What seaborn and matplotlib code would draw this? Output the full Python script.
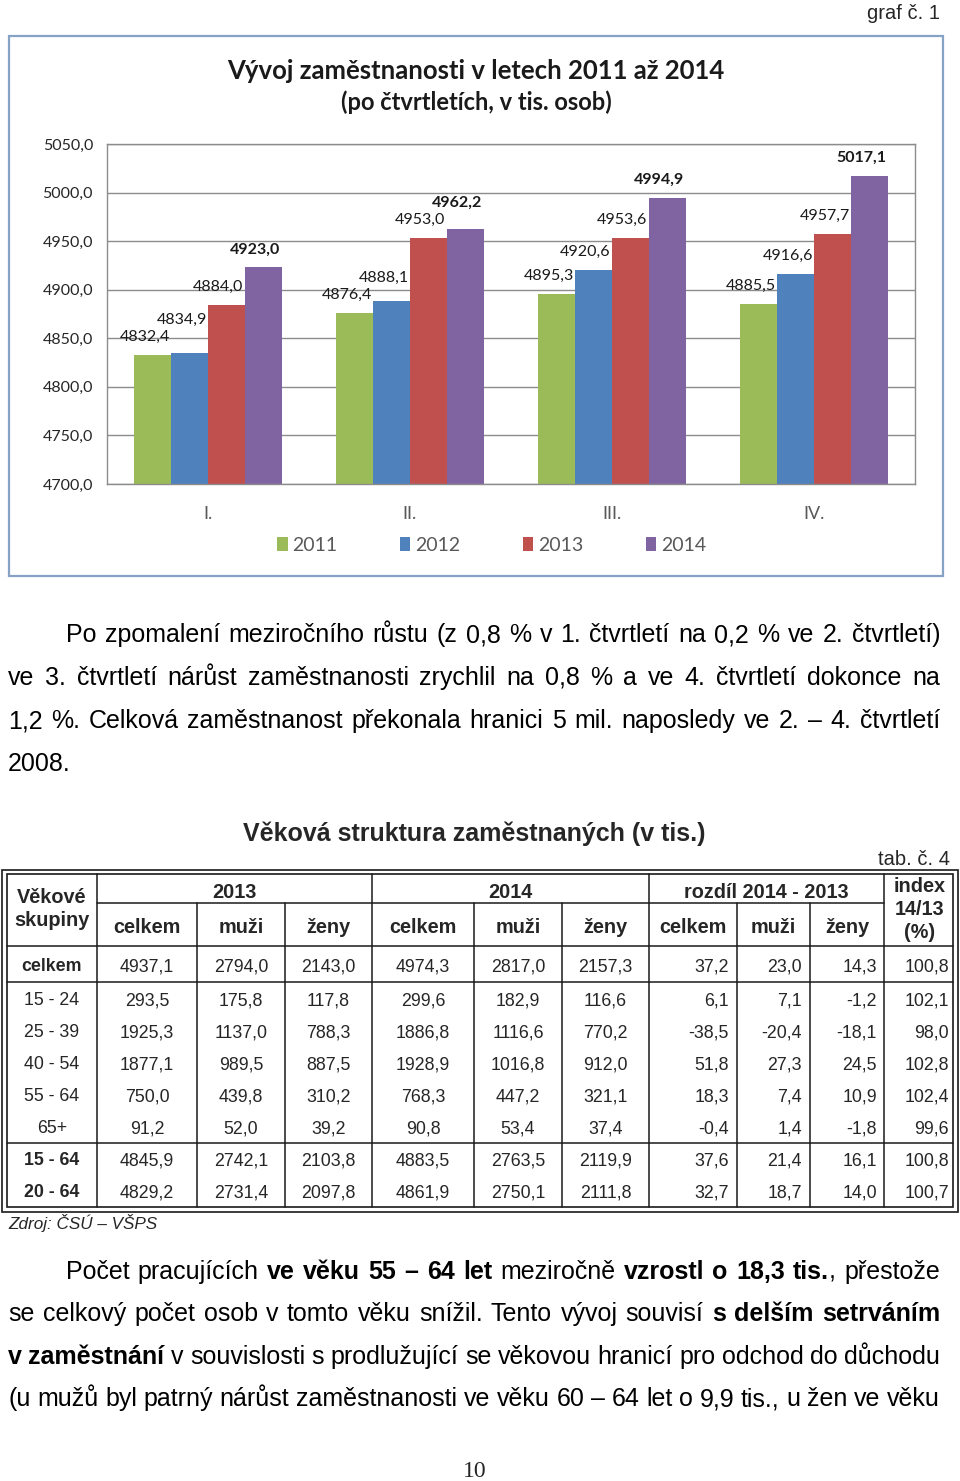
import numpy as np
import pandas as pd
import seaborn as sns
import matplotlib.pyplot as plt
from matplotlib.lines import Line2D
from matplotlib.patches import Rectangle
from matplotlib.ticker import FuncFormatter

# --- data: graf c. 1 ---
quarters = ['I.', 'II.', 'III.', 'IV.']
years = ['2011', '2012', '2013', '2014']
emp_2011 = [4832.4, 4876.4, 4895.3, 4885.5]
emp_2012 = [4834.9, 4888.1, 4920.6, 4916.6]
emp_2013 = [4884.0, 4953.0, 4953.6, 4957.7]
emp_2014 = [4923.0, 4962.2, 4994.9, 5017.1]
bar_colors = ['#9BBB59', '#4F81BD', '#C0504D', '#8064A2']

# --- data: tab. c. 4 ---
age_groups = ['celkem', '15 - 24', '25 - 39', '40 - 54', '55 - 64', '65+', '15 - 64', '20 - 64']
bold_rows = [True, False, False, False, False, False, True, True]
celkem_2013 = [4937.1, 293.5, 1925.3, 1877.1, 750.0, 91.2, 4845.9, 4829.2]
muzi_2013 = [2794.0, 175.8, 1137.0, 989.5, 439.8, 52.0, 2742.1, 2731.4]
zeny_2013 = [2143.0, 117.8, 788.3, 887.5, 310.2, 39.2, 2103.8, 2097.8]
celkem_2014 = [4974.3, 299.6, 1886.8, 1928.9, 768.3, 90.8, 4883.5, 4861.9]
muzi_2014 = [2817.0, 182.9, 1116.6, 1016.8, 447.2, 53.4, 2763.5, 2750.1]
zeny_2014 = [2157.3, 116.6, 770.2, 912.0, 321.1, 37.4, 2119.9, 2111.8]
rozdil_celkem = [37.2, 6.1, -38.5, 51.8, 18.3, -0.4, 37.6, 32.7]
rozdil_muzi = [23.0, 7.1, -20.4, 27.3, 7.4, 1.4, 21.4, 18.7]
rozdil_zeny = [14.3, -1.2, -18.1, 24.5, 10.9, -1.8, 16.1, 14.0]
index_14_13 = [100.8, 102.1, 98.0, 102.8, 102.4, 99.6, 100.8, 100.7]

para1 = [
    "Po zpomalení meziročního růstu (z 0,8 % v 1. čtvrtletí na 0,2 % ve 2. čtvrtletí)",
    "ve 3. čtvrtletí nárůst zaměstnanosti zrychlil na 0,8 % a ve 4. čtvrtletí dokonce na",
    "1,2 %. Celková zaměstnanost překonala hranici 5 mil. naposledy ve 2. – 4. čtvrtletí",
    "2008.",
]
para2 = [
    "Počet pracujících *ve* *věku* *55* *–* *64* *let* meziročně *vzrostl* *o* *18,3* *tis.*, přestože",
    "se celkový počet osob v tomto věku snížil. Tento vývoj souvisí *s* *delším* *setrváním*",
    "*v* *zaměstnání* v souvislosti s prodlužující se věkovou hranicí pro odchod do důchodu",
    "(u mužů byl patrný nárůst zaměstnanosti ve věku 60 – 64 let o 9,9 tis., u žen ve věku",
]


def cz(v):
    return f'{v:.1f}'.replace('.', ',')


W, H = 960, 1481


def fx(x):
    return x / W


def fy(y):
    return 1 - y / H


sns.set_theme(style='white')
plt.rcParams['font.family'] = ['Liberation Sans', 'DejaVu Sans']
CHART_FONT = ['Lato', 'DejaVu Sans']

fig = plt.figure(figsize=(9.6, 14.81), dpi=100)
fig.patch.set_facecolor('white')
renderer = fig.canvas.get_renderer()

# graf c. 1
fig.text(fx(940), fy(19), 'graf č. 1', ha='right', va='baseline', fontsize=14.5)
fig.add_artist(Rectangle((fx(9), fy(576)), fx(943) - fx(9), fy(36) - fy(576),
                         transform=fig.transFigure, fill=False, edgecolor='#86A2C4', lw=1.6))
fig.text(fx(476), fy(71), 'Vývoj zaměstnanosti v letech 2011 až 2014', ha='center', va='center',
         fontsize=18.5, fontweight='bold', family=CHART_FONT, color='#1A1A1A')
fig.text(fx(476), fy(102), '(po čtvrtletích, v tis. osob)', ha='center', va='center',
         fontsize=17, fontweight='bold', family=CHART_FONT, color='#1A1A1A')

ax = fig.add_axes([fx(107), fy(484), fx(915) - fx(107), fy(144) - fy(484)])
df = pd.DataFrame({
    'ctvrtleti': quarters * 4,
    'rok': np.repeat(years, len(quarters)),
    'hodnota': emp_2011 + emp_2012 + emp_2013 + emp_2014,
})
sns.barplot(data=df, x='ctvrtleti', y='hodnota', hue='rok', palette=bar_colors,
            saturation=1, width=0.73, linewidth=0, ax=ax)
ax.set_ylim(4700, 5050)
ax.set_yticks(np.arange(4700, 5051, 50))
ax.yaxis.set_major_formatter(FuncFormatter(lambda v, p: cz(v)))
ax.yaxis.grid(True, color='#8C8C8C', lw=1)
ax.set_axisbelow(True)
for s in ax.spines.values():
    s.set_visible(True)
    s.set_color('#8C8C8C')
    s.set_linewidth(1)
ax.set_xlabel('')
ax.set_ylabel('')
ax.tick_params(axis='y', length=0, pad=10, labelsize=11.5, labelcolor='#262626')
ax.tick_params(axis='x', length=0, pad=16, labelsize=13, labelcolor='#595959')
for lab in ax.get_xticklabels() + ax.get_yticklabels():
    lab.set_family(CHART_FONT)

sns.move_legend(ax, 'center', bbox_to_anchor=(0.476, -0.18), ncol=4, frameon=False, title=None,
                prop={'family': CHART_FONT, 'size': 14}, handlelength=0.55, handleheight=0.75,
                handletextpad=0.25, columnspacing=3.2)
for t in ax.get_legend().get_texts():
    t.set_color('#595959')

# data labels above bars, shifted up where they would collide (like Excel's staggering)
n_groups = len(quarters)
placed = [[] for _ in range(n_groups)]
inv = ax.transData.inverted()
for i, cont in enumerate(ax.containers):
    for j, (rect, val) in enumerate(zip(cont.patches, cont.datavalues)):
        xd, yd = ax.transData.transform((rect.get_x() + rect.get_width() / 2, val))
        t = ax.text(0, 0, cz(val), ha='center', va='center', fontsize=11.5, family=CHART_FONT,
                    fontweight='bold' if i == 3 else 'normal', color='#1A1A1A')
        cy = yd + 18
        while True:
            t.set_position(inv.transform((xd - 8, cy)))
            bb = t.get_window_extent(renderer)
            hit = [p for p in placed[j] if bb.x0 < p.x1 and bb.x1 > p.x0 and bb.y0 < p.y1 + 2 and bb.y1 > p.y0 - 2]
            if not hit:
                break
            cy = max(p.y1 for p in hit) + 2 + bb.height / 2 + 1
        placed[j].append(bb)


# justified paragraph text
def draw_line(line, x0, x1, ybase, size, justify=True):
    items = []
    for w in line.split(' '):
        arts = []
        for k, p in enumerate(w.split('*')):
            if not p:
                continue
            arts.append(fig.text(0, fy(ybase), p, fontsize=size, va='baseline', ha='left',
                                 fontweight='bold' if k % 2 else 'normal', color='black'))
        items.append((arts, [a.get_window_extent(renderer).width for a in arts]))
    total = sum(sum(wd) for _, wd in items)
    if justify and len(items) > 1:
        gap = (x1 - x0 - total) / (len(items) - 1)
    else:
        gap = 0.278 * size * 100 / 72
    x = x0
    for arts, widths in items:
        for a, wd in zip(arts, widths):
            a.set_x(fx(x))
            x += wd
        x += gap


BODY = 18
for i, (line, yb) in enumerate(zip(para1, [642, 685, 728, 771])):
    draw_line(line, 66 if i == 0 else 8, 940, yb, BODY, justify=i < 3)

# tab. c. 4
fig.text(fx(474), fy(841), 'Věková struktura zaměstnaných (v tis.)', ha='center', va='baseline',
         fontsize=BODY, fontweight='bold')
fig.text(fx(950), fy(865), 'tab. č. 4', ha='right', va='baseline', fontsize=14.5)

LINE_C = '#1A1A1A'


def hline(y, x0, x1, lw=1.1):
    fig.add_artist(Line2D([fx(x0), fx(x1)], [fy(y), fy(y)], transform=fig.transFigure, color=LINE_C, lw=lw))


def vline(x, y0, y1, lw=1.1):
    fig.add_artist(Line2D([fx(x), fx(x)], [fy(y0), fy(y1)], transform=fig.transFigure, color=LINE_C, lw=lw))


for (x0, y0, x1, y1) in [(2, 870, 958, 1212), (7, 874, 953, 1207)]:
    fig.add_artist(Rectangle((fx(x0), fy(y1)), fx(x1) - fx(x0), fy(y0) - fy(y1),
                             transform=fig.transFigure, fill=False, edgecolor=LINE_C, lw=1.2))

col_edges = [7, 97, 197, 285, 372, 474, 562, 649, 737, 810, 884, 953]
for j, x in enumerate(col_edges[1:-1], start=1):
    top = 874 if j in (1, 4, 7, 10) else 903
    vline(x, top, 1207)
hline(903, 97, 884)
for y in (946, 982, 1143):
    hline(y, 7, 953)

HEAD = 14.3
CELL = 12.8
mid = [(a + b) / 2 for a, b in zip(col_edges[:-1], col_edges[1:])]
fig.text(fx(mid[0]), fy(903), 'Věkové', ha='center', va='baseline', fontsize=HEAD, fontweight='bold')
fig.text(fx(mid[0]), fy(926), 'skupiny', ha='center', va='baseline', fontsize=HEAD, fontweight='bold')
for label, a, b in [('2013', 1, 4), ('2014', 4, 7), ('rozdíl 2014 - 2013', 7, 10)]:
    fig.text(fx((col_edges[a] + col_edges[b]) / 2), fy(898), label, ha='center', va='baseline',
             fontsize=HEAD, fontweight='bold')
for j, label in enumerate(['celkem', 'muži', 'ženy'] * 3, start=1):
    fig.text(fx(mid[j]), fy(933), label, ha='center', va='baseline', fontsize=HEAD, fontweight='bold')
for label, yb in [('index', 892), ('14/13', 915), ('(%)', 938)]:
    fig.text(fx(920), fy(yb), label, ha='center', va='baseline', fontsize=HEAD, fontweight='bold')

row_base = [971, 1005, 1037, 1069, 1101, 1133, 1165, 1197]
centered_cols = [celkem_2013, muzi_2013, zeny_2013, celkem_2014, muzi_2014, zeny_2014]
right_cols = [rozdil_celkem, rozdil_muzi, rozdil_zeny, index_14_13]
right_x = [729, 802, 877, 949]
for r, yb in enumerate(row_base):
    fig.text(fx(mid[0]), fy(yb), age_groups[r], ha='center', va='baseline', fontsize=CELL,
             fontweight='bold' if bold_rows[r] else 'normal')
    for j, col in enumerate(centered_cols, start=1):
        fig.text(fx(mid[j]), fy(yb), cz(col[r]), ha='center', va='baseline', fontsize=CELL)
    for col, xr in zip(right_cols, right_x):
        fig.text(fx(xr), fy(yb), cz(col[r]), ha='right', va='baseline', fontsize=CELL)

fig.text(fx(8), fy(1229), 'Zdroj: ČSÚ – VŠPS', ha='left', va='baseline', fontsize=12.3, style='italic')

for i, (line, yb) in enumerate(zip(para2, [1279, 1321, 1364, 1406])):
    draw_line(line, 66 if i == 0 else 8, 940, yb, BODY)

fig.text(fx(475), fy(1477), '10', ha='center', va='baseline', fontsize=17, family=['Liberation Serif'])

fig.savefig('out.png', dpi=100, facecolor='white')
